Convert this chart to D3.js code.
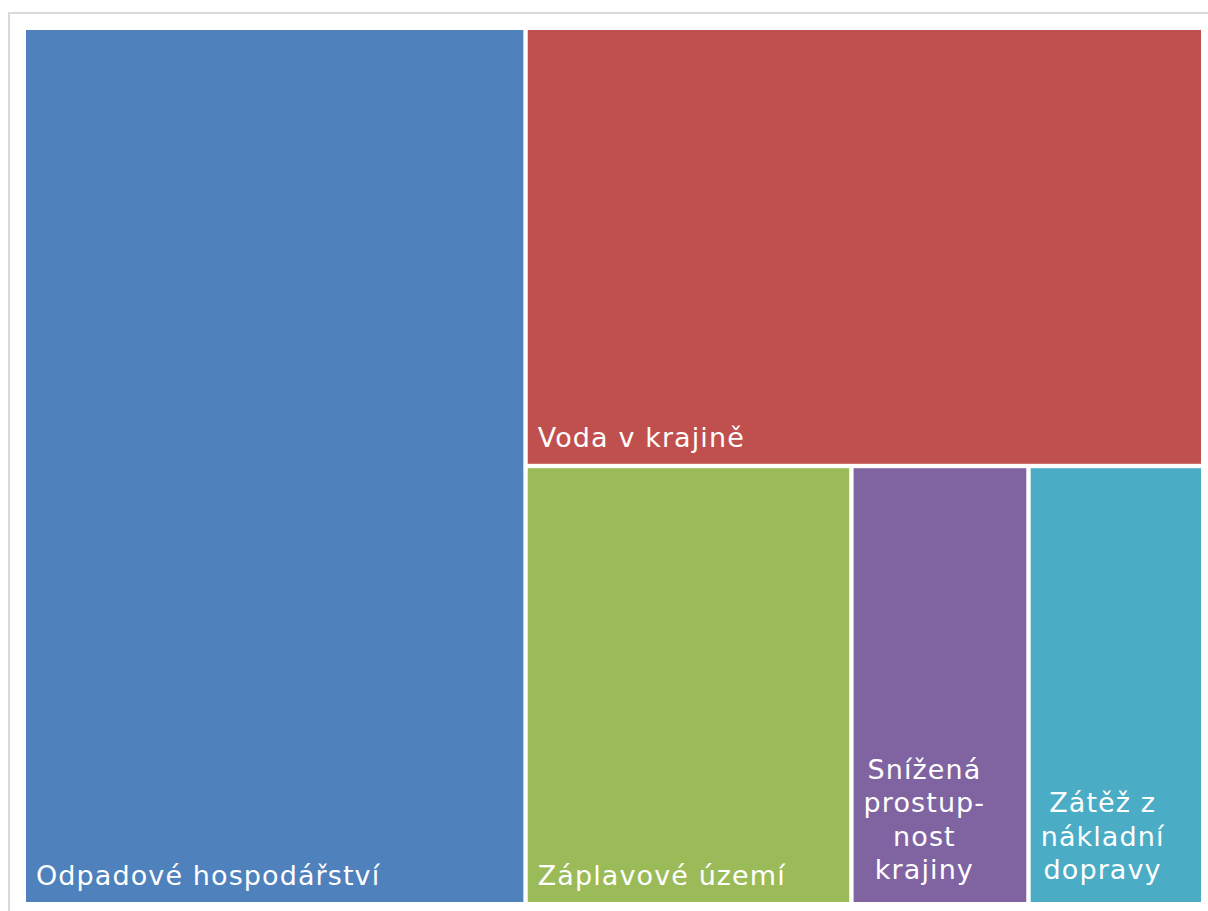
<!DOCTYPE html>
<html>
<head>
<meta charset="utf-8">
<script src="https://cdn.jsdelivr.net/npm/d3@7"></script>
<style>
  html, body { margin: 0; padding: 0; background: #fff; }
  .cell-label { font-family: "DejaVu Sans", sans-serif; font-size: 27px; fill: #fff; letter-spacing: 1.1px; }
</style>
</head>
<body>
<div id="chart"></div>
<script>
// treemap data
const categories = ['Odpadové hospodářství', 'Voda v krajině', 'Záplavové území', 'Snížená prostupnost krajiny', 'Zátěž z nákladní dopravy'];
const values = [42.5, 28.7, 13.8, 7.5, 7.4];
const labelLines = [
    ['Odpadové hospodářství'],
    ['Voda v krajině'],
    ['Záplavové území'],
    ['Snížená', 'prostup-', 'nost', 'krajiny'],
    ['Zátěž z', 'nákladní', 'dopravy']
];
const colors = ['#4f81bd', '#c0504d', '#9bbb59', '#8064a2', '#4bacc6'];

const W = 1208, H = 911;
const margin = {top: 30, left: 26, right: 7, bottom: 9};
const width = W - margin.left - margin.right;
const height = H - margin.top - margin.bottom;

const svg = d3.select('#chart').append('svg')
    .attr('width', W)
    .attr('height', H);

// light frame around the chart area
svg.append('rect')
    .attr('x', 9).attr('y', 13)
    .attr('width', 1210).attr('height', 910)
    .attr('fill', 'none')
    .attr('stroke', '#d9d9d9')
    .attr('stroke-width', 2);

const leaves = categories.map((c, i) => ({name: c, value: values[i], lines: labelLines[i], color: colors[i]}));

// nest so slice/dice reproduces the office layout
const tree = {children: [leaves[0], {children: [leaves[1], {children: leaves.slice(2)}]}]};

const root = d3.hierarchy(tree)
    .sum(d => d.value || 0);

d3.treemap()
    .tile(d3.treemapSliceDice)
    .size([width, height])
    .paddingInner(4.4)
    .round(false)(root);

const g = svg.append('g')
    .attr('transform', `translate(${margin.left},${margin.top})`);

const cell = g.selectAll('g.cell')
    .data(root.leaves())
    .enter()
    .append('g')
    .attr('class', 'cell');

cell.append('rect')
    .attr('x', d => d.x0)
    .attr('y', d => d.y0)
    .attr('width', d => d.x1 - d.x0)
    .attr('height', d => d.y1 - d.y0)
    .attr('fill', d => d.data.color);

const lineH = 33.3;
cell.each(function(d) {
    const lines = d.data.lines;
    const sel = d3.select(this);
    if (lines.length === 1) {
        sel.append('text')
            .attr('class', 'cell-label')
            .attr('x', d.x0 + 10)
            .attr('y', d.y1 - 17)
            .text(lines[0]);
        return;
    }
    const txt = sel.selectAll('text.cell-label')
        .data(lines)
        .enter()
        .append('text')
        .attr('class', 'cell-label')
        .attr('text-anchor', 'middle')
        .attr('y', (l, i) => d.y1 - 23 - (lines.length - 1 - i) * lineH)
        .text(l => l);
    let maxW = 0;
    txt.each(function() { maxW = Math.max(maxW, this.getComputedTextLength()); });
    txt.attr('x', d.x0 + 10 + maxW / 2);
});
</script>
</body>
</html>
